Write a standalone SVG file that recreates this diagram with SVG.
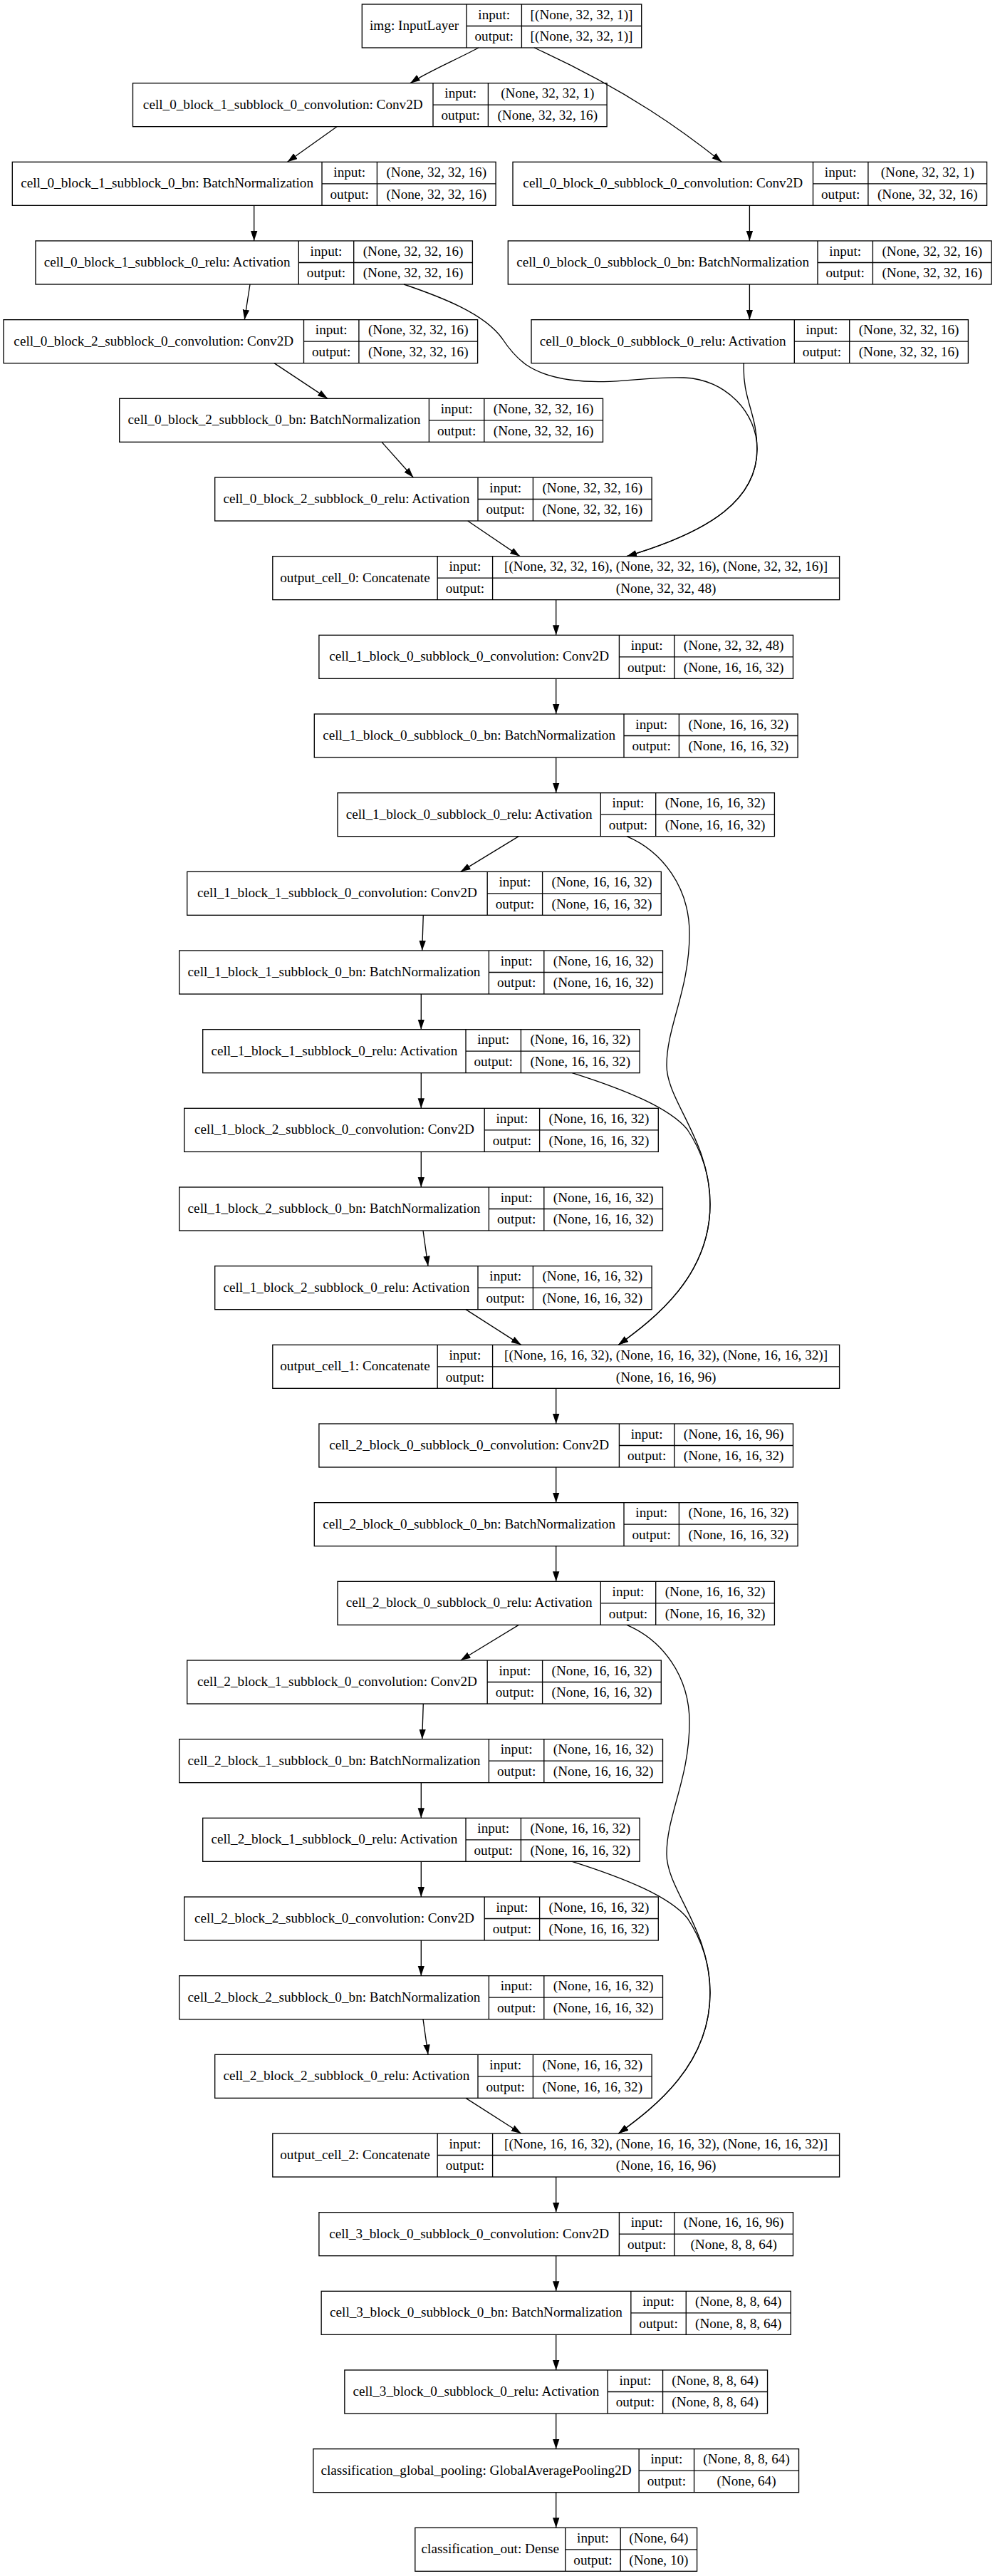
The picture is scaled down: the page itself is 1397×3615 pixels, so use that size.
<svg xmlns="http://www.w3.org/2000/svg" width="1397" height="3615" viewBox="0 0 1397 3615">
<style>
  .box{fill:#fff;stroke:#000;stroke-width:1.33}
  .grid{fill:none;stroke:#000;stroke-width:1.33}
  .edge{fill:none;stroke:#000;stroke-width:1.33;marker-end:url(#arrow)}
  text{font-family:"Liberation Serif","Times New Roman",serif;font-size:19.2px;text-anchor:middle;fill:#000}
</style>
<defs>
  <marker id="arrow" markerUnits="userSpaceOnUse" markerWidth="14" markerHeight="10" viewBox="0 0 14 10" refX="14" refY="5" orient="auto">
    <path d="M0,0.3L14,5L0,9.7z" fill="#000"/>
  </marker>
</defs>
<rect width="1397" height="3615" fill="#fff"/>

<!-- layer records: name | input:/output: | shapes -->
<g id="nodes">
<g id="img" transform="translate(508.3,6)">
  <rect class="box" width="392.4" height="61"/>
  <path class="grid" d="M146.7,0V61M224.1,0V61M146.7,30.5H392.4"/>
  <text x="73.35" y="36">img: InputLayer</text>
  <text x="185.4" y="20.7">input:</text><text x="185.4" y="51.2">output:</text>
  <text x="308.25" y="20.7">[(None, 32, 32, 1)]</text><text x="308.25" y="51.2">[(None, 32, 32, 1)]</text>
</g>

<g id="cell_0_block_1_subblock_0_convolution" transform="translate(186.5,116.67)">
  <rect class="box" width="665.6" height="61"/>
  <path class="grid" d="M421.5,0V61M498.9,0V61M421.5,30.5H665.6"/>
  <text x="210.75" y="36">cell_0_block_1_subblock_0_convolution: Conv2D</text>
  <text x="460.2" y="20.7">input:</text><text x="460.2" y="51.2">output:</text>
  <text x="582.25" y="20.7">(None, 32, 32, 1)</text><text x="582.25" y="51.2">(None, 32, 32, 16)</text>
</g>

<g id="cell_0_block_1_subblock_0_bn" transform="translate(17.3,227.33)">
  <rect class="box" width="678.8" height="61"/>
  <path class="grid" d="M434.7,0V61M512.1,0V61M434.7,30.5H678.8"/>
  <text x="217.35" y="36">cell_0_block_1_subblock_0_bn: BatchNormalization</text>
  <text x="473.4" y="20.7">input:</text><text x="473.4" y="51.2">output:</text>
  <text x="595.45" y="20.7">(None, 32, 32, 16)</text><text x="595.45" y="51.2">(None, 32, 32, 16)</text>
</g>

<g id="cell_0_block_0_subblock_0_convolution" transform="translate(720,227.33)">
  <rect class="box" width="665.6" height="61"/>
  <path class="grid" d="M421.5,0V61M498.9,0V61M421.5,30.5H665.6"/>
  <text x="210.75" y="36">cell_0_block_0_subblock_0_convolution: Conv2D</text>
  <text x="460.2" y="20.7">input:</text><text x="460.2" y="51.2">output:</text>
  <text x="582.25" y="20.7">(None, 32, 32, 1)</text><text x="582.25" y="51.2">(None, 32, 32, 16)</text>
</g>

<g id="cell_0_block_1_subblock_0_relu" transform="translate(50,338)">
  <rect class="box" width="613.4" height="61"/>
  <path class="grid" d="M369.3,0V61M446.7,0V61M369.3,30.5H613.4"/>
  <text x="184.65" y="36">cell_0_block_1_subblock_0_relu: Activation</text>
  <text x="408" y="20.7">input:</text><text x="408" y="51.2">output:</text>
  <text x="530.05" y="20.7">(None, 32, 32, 16)</text><text x="530.05" y="51.2">(None, 32, 32, 16)</text>
</g>

<g id="cell_0_block_0_subblock_0_bn" transform="translate(713.3,338)">
  <rect class="box" width="678.8" height="61"/>
  <path class="grid" d="M434.7,0V61M512.1,0V61M434.7,30.5H678.8"/>
  <text x="217.35" y="36">cell_0_block_0_subblock_0_bn: BatchNormalization</text>
  <text x="473.4" y="20.7">input:</text><text x="473.4" y="51.2">output:</text>
  <text x="595.45" y="20.7">(None, 32, 32, 16)</text><text x="595.45" y="51.2">(None, 32, 32, 16)</text>
</g>

<g id="cell_0_block_2_subblock_0_convolution" transform="translate(5,448.67)">
  <rect class="box" width="665.6" height="61"/>
  <path class="grid" d="M421.5,0V61M498.9,0V61M421.5,30.5H665.6"/>
  <text x="210.75" y="36">cell_0_block_2_subblock_0_convolution: Conv2D</text>
  <text x="460.2" y="20.7">input:</text><text x="460.2" y="51.2">output:</text>
  <text x="582.25" y="20.7">(None, 32, 32, 16)</text><text x="582.25" y="51.2">(None, 32, 32, 16)</text>
</g>

<g id="cell_0_block_0_subblock_0_relu" transform="translate(746,448.67)">
  <rect class="box" width="613.4" height="61"/>
  <path class="grid" d="M369.3,0V61M446.7,0V61M369.3,30.5H613.4"/>
  <text x="184.65" y="36">cell_0_block_0_subblock_0_relu: Activation</text>
  <text x="408" y="20.7">input:</text><text x="408" y="51.2">output:</text>
  <text x="530.05" y="20.7">(None, 32, 32, 16)</text><text x="530.05" y="51.2">(None, 32, 32, 16)</text>
</g>

<g id="cell_0_block_2_subblock_0_bn" transform="translate(167.7,559.33)">
  <rect class="box" width="678.8" height="61"/>
  <path class="grid" d="M434.7,0V61M512.1,0V61M434.7,30.5H678.8"/>
  <text x="217.35" y="36">cell_0_block_2_subblock_0_bn: BatchNormalization</text>
  <text x="473.4" y="20.7">input:</text><text x="473.4" y="51.2">output:</text>
  <text x="595.45" y="20.7">(None, 32, 32, 16)</text><text x="595.45" y="51.2">(None, 32, 32, 16)</text>
</g>

<g id="cell_0_block_2_subblock_0_relu" transform="translate(301.7,670)">
  <rect class="box" width="613.4" height="61"/>
  <path class="grid" d="M369.3,0V61M446.7,0V61M369.3,30.5H613.4"/>
  <text x="184.65" y="36">cell_0_block_2_subblock_0_relu: Activation</text>
  <text x="408" y="20.7">input:</text><text x="408" y="51.2">output:</text>
  <text x="530.05" y="20.7">(None, 32, 32, 16)</text><text x="530.05" y="51.2">(None, 32, 32, 16)</text>
</g>

<g id="output_cell_0" transform="translate(382.8,780.67)">
  <rect class="box" width="795.8" height="61"/>
  <path class="grid" d="M231.4,0V61M308.8,0V61M231.4,30.5H795.8"/>
  <text x="115.7" y="36">output_cell_0: Concatenate</text>
  <text x="270.1" y="20.7">input:</text><text x="270.1" y="51.2">output:</text>
  <text x="552.3" y="20.7">[(None, 32, 32, 16), (None, 32, 32, 16), (None, 32, 32, 16)]</text><text x="552.3" y="51.2">(None, 32, 32, 48)</text>
</g>

<g id="cell_1_block_0_subblock_0_convolution" transform="translate(447.9,891.33)">
  <rect class="box" width="665.6" height="61"/>
  <path class="grid" d="M421.5,0V61M498.9,0V61M421.5,30.5H665.6"/>
  <text x="210.75" y="36">cell_1_block_0_subblock_0_convolution: Conv2D</text>
  <text x="460.2" y="20.7">input:</text><text x="460.2" y="51.2">output:</text>
  <text x="582.25" y="20.7">(None, 32, 32, 48)</text><text x="582.25" y="51.2">(None, 16, 16, 32)</text>
</g>

<g id="cell_1_block_0_subblock_0_bn" transform="translate(441.3,1002)">
  <rect class="box" width="678.8" height="61"/>
  <path class="grid" d="M434.7,0V61M512.1,0V61M434.7,30.5H678.8"/>
  <text x="217.35" y="36">cell_1_block_0_subblock_0_bn: BatchNormalization</text>
  <text x="473.4" y="20.7">input:</text><text x="473.4" y="51.2">output:</text>
  <text x="595.45" y="20.7">(None, 16, 16, 32)</text><text x="595.45" y="51.2">(None, 16, 16, 32)</text>
</g>

<g id="cell_1_block_0_subblock_0_relu" transform="translate(474,1112.67)">
  <rect class="box" width="613.4" height="61"/>
  <path class="grid" d="M369.3,0V61M446.7,0V61M369.3,30.5H613.4"/>
  <text x="184.65" y="36">cell_1_block_0_subblock_0_relu: Activation</text>
  <text x="408" y="20.7">input:</text><text x="408" y="51.2">output:</text>
  <text x="530.05" y="20.7">(None, 16, 16, 32)</text><text x="530.05" y="51.2">(None, 16, 16, 32)</text>
</g>

<g id="cell_1_block_1_subblock_0_convolution" transform="translate(262.7,1223.33)">
  <rect class="box" width="665.6" height="61"/>
  <path class="grid" d="M421.5,0V61M498.9,0V61M421.5,30.5H665.6"/>
  <text x="210.75" y="36">cell_1_block_1_subblock_0_convolution: Conv2D</text>
  <text x="460.2" y="20.7">input:</text><text x="460.2" y="51.2">output:</text>
  <text x="582.25" y="20.7">(None, 16, 16, 32)</text><text x="582.25" y="51.2">(None, 16, 16, 32)</text>
</g>

<g id="cell_1_block_1_subblock_0_bn" transform="translate(251.7,1334)">
  <rect class="box" width="678.8" height="61"/>
  <path class="grid" d="M434.7,0V61M512.1,0V61M434.7,30.5H678.8"/>
  <text x="217.35" y="36">cell_1_block_1_subblock_0_bn: BatchNormalization</text>
  <text x="473.4" y="20.7">input:</text><text x="473.4" y="51.2">output:</text>
  <text x="595.45" y="20.7">(None, 16, 16, 32)</text><text x="595.45" y="51.2">(None, 16, 16, 32)</text>
</g>

<g id="cell_1_block_1_subblock_0_relu" transform="translate(284.7,1444.67)">
  <rect class="box" width="613.4" height="61"/>
  <path class="grid" d="M369.3,0V61M446.7,0V61M369.3,30.5H613.4"/>
  <text x="184.65" y="36">cell_1_block_1_subblock_0_relu: Activation</text>
  <text x="408" y="20.7">input:</text><text x="408" y="51.2">output:</text>
  <text x="530.05" y="20.7">(None, 16, 16, 32)</text><text x="530.05" y="51.2">(None, 16, 16, 32)</text>
</g>

<g id="cell_1_block_2_subblock_0_convolution" transform="translate(258.7,1555.33)">
  <rect class="box" width="665.6" height="61"/>
  <path class="grid" d="M421.5,0V61M498.9,0V61M421.5,30.5H665.6"/>
  <text x="210.75" y="36">cell_1_block_2_subblock_0_convolution: Conv2D</text>
  <text x="460.2" y="20.7">input:</text><text x="460.2" y="51.2">output:</text>
  <text x="582.25" y="20.7">(None, 16, 16, 32)</text><text x="582.25" y="51.2">(None, 16, 16, 32)</text>
</g>

<g id="cell_1_block_2_subblock_0_bn" transform="translate(251.7,1666)">
  <rect class="box" width="678.8" height="61"/>
  <path class="grid" d="M434.7,0V61M512.1,0V61M434.7,30.5H678.8"/>
  <text x="217.35" y="36">cell_1_block_2_subblock_0_bn: BatchNormalization</text>
  <text x="473.4" y="20.7">input:</text><text x="473.4" y="51.2">output:</text>
  <text x="595.45" y="20.7">(None, 16, 16, 32)</text><text x="595.45" y="51.2">(None, 16, 16, 32)</text>
</g>

<g id="cell_1_block_2_subblock_0_relu" transform="translate(301.7,1776.67)">
  <rect class="box" width="613.4" height="61"/>
  <path class="grid" d="M369.3,0V61M446.7,0V61M369.3,30.5H613.4"/>
  <text x="184.65" y="36">cell_1_block_2_subblock_0_relu: Activation</text>
  <text x="408" y="20.7">input:</text><text x="408" y="51.2">output:</text>
  <text x="530.05" y="20.7">(None, 16, 16, 32)</text><text x="530.05" y="51.2">(None, 16, 16, 32)</text>
</g>

<g id="output_cell_1" transform="translate(382.8,1887.33)">
  <rect class="box" width="795.8" height="61"/>
  <path class="grid" d="M231.4,0V61M308.8,0V61M231.4,30.5H795.8"/>
  <text x="115.7" y="36">output_cell_1: Concatenate</text>
  <text x="270.1" y="20.7">input:</text><text x="270.1" y="51.2">output:</text>
  <text x="552.3" y="20.7">[(None, 16, 16, 32), (None, 16, 16, 32), (None, 16, 16, 32)]</text><text x="552.3" y="51.2">(None, 16, 16, 96)</text>
</g>

<g id="cell_2_block_0_subblock_0_convolution" transform="translate(447.9,1998)">
  <rect class="box" width="665.6" height="61"/>
  <path class="grid" d="M421.5,0V61M498.9,0V61M421.5,30.5H665.6"/>
  <text x="210.75" y="36">cell_2_block_0_subblock_0_convolution: Conv2D</text>
  <text x="460.2" y="20.7">input:</text><text x="460.2" y="51.2">output:</text>
  <text x="582.25" y="20.7">(None, 16, 16, 96)</text><text x="582.25" y="51.2">(None, 16, 16, 32)</text>
</g>

<g id="cell_2_block_0_subblock_0_bn" transform="translate(441.3,2108.67)">
  <rect class="box" width="678.8" height="61"/>
  <path class="grid" d="M434.7,0V61M512.1,0V61M434.7,30.5H678.8"/>
  <text x="217.35" y="36">cell_2_block_0_subblock_0_bn: BatchNormalization</text>
  <text x="473.4" y="20.7">input:</text><text x="473.4" y="51.2">output:</text>
  <text x="595.45" y="20.7">(None, 16, 16, 32)</text><text x="595.45" y="51.2">(None, 16, 16, 32)</text>
</g>

<g id="cell_2_block_0_subblock_0_relu" transform="translate(474,2219.33)">
  <rect class="box" width="613.4" height="61"/>
  <path class="grid" d="M369.3,0V61M446.7,0V61M369.3,30.5H613.4"/>
  <text x="184.65" y="36">cell_2_block_0_subblock_0_relu: Activation</text>
  <text x="408" y="20.7">input:</text><text x="408" y="51.2">output:</text>
  <text x="530.05" y="20.7">(None, 16, 16, 32)</text><text x="530.05" y="51.2">(None, 16, 16, 32)</text>
</g>

<g id="cell_2_block_1_subblock_0_convolution" transform="translate(262.7,2330)">
  <rect class="box" width="665.6" height="61"/>
  <path class="grid" d="M421.5,0V61M498.9,0V61M421.5,30.5H665.6"/>
  <text x="210.75" y="36">cell_2_block_1_subblock_0_convolution: Conv2D</text>
  <text x="460.2" y="20.7">input:</text><text x="460.2" y="51.2">output:</text>
  <text x="582.25" y="20.7">(None, 16, 16, 32)</text><text x="582.25" y="51.2">(None, 16, 16, 32)</text>
</g>

<g id="cell_2_block_1_subblock_0_bn" transform="translate(251.7,2440.67)">
  <rect class="box" width="678.8" height="61"/>
  <path class="grid" d="M434.7,0V61M512.1,0V61M434.7,30.5H678.8"/>
  <text x="217.35" y="36">cell_2_block_1_subblock_0_bn: BatchNormalization</text>
  <text x="473.4" y="20.7">input:</text><text x="473.4" y="51.2">output:</text>
  <text x="595.45" y="20.7">(None, 16, 16, 32)</text><text x="595.45" y="51.2">(None, 16, 16, 32)</text>
</g>

<g id="cell_2_block_1_subblock_0_relu" transform="translate(284.7,2551.33)">
  <rect class="box" width="613.4" height="61"/>
  <path class="grid" d="M369.3,0V61M446.7,0V61M369.3,30.5H613.4"/>
  <text x="184.65" y="36">cell_2_block_1_subblock_0_relu: Activation</text>
  <text x="408" y="20.7">input:</text><text x="408" y="51.2">output:</text>
  <text x="530.05" y="20.7">(None, 16, 16, 32)</text><text x="530.05" y="51.2">(None, 16, 16, 32)</text>
</g>

<g id="cell_2_block_2_subblock_0_convolution" transform="translate(258.7,2662)">
  <rect class="box" width="665.6" height="61"/>
  <path class="grid" d="M421.5,0V61M498.9,0V61M421.5,30.5H665.6"/>
  <text x="210.75" y="36">cell_2_block_2_subblock_0_convolution: Conv2D</text>
  <text x="460.2" y="20.7">input:</text><text x="460.2" y="51.2">output:</text>
  <text x="582.25" y="20.7">(None, 16, 16, 32)</text><text x="582.25" y="51.2">(None, 16, 16, 32)</text>
</g>

<g id="cell_2_block_2_subblock_0_bn" transform="translate(251.7,2772.67)">
  <rect class="box" width="678.8" height="61"/>
  <path class="grid" d="M434.7,0V61M512.1,0V61M434.7,30.5H678.8"/>
  <text x="217.35" y="36">cell_2_block_2_subblock_0_bn: BatchNormalization</text>
  <text x="473.4" y="20.7">input:</text><text x="473.4" y="51.2">output:</text>
  <text x="595.45" y="20.7">(None, 16, 16, 32)</text><text x="595.45" y="51.2">(None, 16, 16, 32)</text>
</g>

<g id="cell_2_block_2_subblock_0_relu" transform="translate(301.7,2883.33)">
  <rect class="box" width="613.4" height="61"/>
  <path class="grid" d="M369.3,0V61M446.7,0V61M369.3,30.5H613.4"/>
  <text x="184.65" y="36">cell_2_block_2_subblock_0_relu: Activation</text>
  <text x="408" y="20.7">input:</text><text x="408" y="51.2">output:</text>
  <text x="530.05" y="20.7">(None, 16, 16, 32)</text><text x="530.05" y="51.2">(None, 16, 16, 32)</text>
</g>

<g id="output_cell_2" transform="translate(382.8,2994)">
  <rect class="box" width="795.8" height="61"/>
  <path class="grid" d="M231.4,0V61M308.8,0V61M231.4,30.5H795.8"/>
  <text x="115.7" y="36">output_cell_2: Concatenate</text>
  <text x="270.1" y="20.7">input:</text><text x="270.1" y="51.2">output:</text>
  <text x="552.3" y="20.7">[(None, 16, 16, 32), (None, 16, 16, 32), (None, 16, 16, 32)]</text><text x="552.3" y="51.2">(None, 16, 16, 96)</text>
</g>

<g id="cell_3_block_0_subblock_0_convolution" transform="translate(447.9,3104.67)">
  <rect class="box" width="665.6" height="61"/>
  <path class="grid" d="M421.5,0V61M498.9,0V61M421.5,30.5H665.6"/>
  <text x="210.75" y="36">cell_3_block_0_subblock_0_convolution: Conv2D</text>
  <text x="460.2" y="20.7">input:</text><text x="460.2" y="51.2">output:</text>
  <text x="582.25" y="20.7">(None, 16, 16, 96)</text><text x="582.25" y="51.2">(None, 8, 8, 64)</text>
</g>

<g id="cell_3_block_0_subblock_0_bn" transform="translate(451.15,3215.33)">
  <rect class="box" width="659.1" height="61"/>
  <path class="grid" d="M434.7,0V61M512.1,0V61M434.7,30.5H659.1"/>
  <text x="217.35" y="36">cell_3_block_0_subblock_0_bn: BatchNormalization</text>
  <text x="473.4" y="20.7">input:</text><text x="473.4" y="51.2">output:</text>
  <text x="585.6" y="20.7">(None, 8, 8, 64)</text><text x="585.6" y="51.2">(None, 8, 8, 64)</text>
</g>

<g id="cell_3_block_0_subblock_0_relu" transform="translate(483.85,3326)">
  <rect class="box" width="593.7" height="61"/>
  <path class="grid" d="M369.3,0V61M446.7,0V61M369.3,30.5H593.7"/>
  <text x="184.65" y="36">cell_3_block_0_subblock_0_relu: Activation</text>
  <text x="408" y="20.7">input:</text><text x="408" y="51.2">output:</text>
  <text x="520.2" y="20.7">(None, 8, 8, 64)</text><text x="520.2" y="51.2">(None, 8, 8, 64)</text>
</g>

<g id="classification_global_pooling" transform="translate(439.85,3436.67)">
  <rect class="box" width="681.7" height="61"/>
  <path class="grid" d="M457.3,0V61M534.7,0V61M457.3,30.5H681.7"/>
  <text x="228.65" y="36">classification_global_pooling: GlobalAveragePooling2D</text>
  <text x="496" y="20.7">input:</text><text x="496" y="51.2">output:</text>
  <text x="608.2" y="20.7">(None, 8, 8, 64)</text><text x="608.2" y="51.2">(None, 64)</text>
</g>

<g id="classification_out" transform="translate(582.8,3547.33)">
  <rect class="box" width="395.8" height="61"/>
  <path class="grid" d="M211,0V61M288.4,0V61M211,30.5H395.8"/>
  <text x="105.5" y="36">classification_out: Dense</text>
  <text x="249.7" y="20.7">input:</text><text x="249.7" y="51.2">output:</text>
  <text x="342.1" y="20.7">(None, 64)</text><text x="342.1" y="51.2">(None, 10)</text>
</g>
</g>

<!-- connectors -->
<g id="edges">
  <!-- cell 0 -->
  <path class="edge" d="M672,67C640,84 600,101 576,116.67"/>
  <path class="edge" d="M750,67C882,127 963,187 1013.3,227.33"/>
  <path class="edge" d="M473,177.67L403.5,227.33"/>
  <path class="edge" d="M356.7,288.33V338"/>
  <path class="edge" d="M351,399L343.3,448.67"/>
  <path class="edge" d="M385,509.67L460,559.33"/>
  <path class="edge" d="M536,620.33L580.3,670"/>
  <path class="edge" d="M656.7,731L730,780.67"/>
  <path class="edge" d="M1052.4,288.33V338"/>
  <path class="edge" d="M1052.4,399V448.67"/>
  <path class="edge" d="M567,399C620,417 680,440 705,475C725,505 745,525 800,533C860,541 900,528 960,530C1020,532 1063,580 1063,630C1063,700 1000,745 880,780.67"/>
  <path class="edge" d="M1044.3,509.67C1042,560 1063,580 1063,630C1063,700 1000,745 880,780.67"/>

  <!-- cell 1 -->
  <path class="edge" d="M780.7,841.67V891.33"/>
  <path class="edge" d="M780.7,952.33V1002"/>
  <path class="edge" d="M780.7,1063V1112.67"/>
  <path class="edge" d="M728.3,1173.67L646.7,1223.33"/>
  <path class="edge" d="M594.3,1284.33L592.7,1334"/>
  <path class="edge" d="M591.3,1395V1444.67"/>
  <path class="edge" d="M591.3,1505.67V1555.33"/>
  <path class="edge" d="M591.3,1616.33V1666"/>
  <path class="edge" d="M594,1727L601,1776.67"/>
  <path class="edge" d="M654,1837.67L731.7,1887.33"/>
  <path class="edge" d="M880,1173.67C930,1195 968,1245 968,1310C968,1390 936,1440 936,1495C936,1545 997,1600 997,1690C997,1790 920,1850 868.3,1887.33"/>
  <path class="edge" d="M803.3,1505.67C880,1530 940,1555 965,1585C985,1615 997,1650 997,1690C997,1790 920,1850 868.3,1887.33"/>

  <!-- cell 2 -->
  <path class="edge" d="M780.7,1948.33V1998"/>
  <path class="edge" d="M780.7,2059V2108.67"/>
  <path class="edge" d="M780.7,2169.67V2219.33"/>
  <path class="edge" d="M728.3,2280.33L646.7,2330"/>
  <path class="edge" d="M594.3,2391L592.7,2440.67"/>
  <path class="edge" d="M591.3,2501.67V2551.33"/>
  <path class="edge" d="M591.3,2612.33V2662"/>
  <path class="edge" d="M591.3,2723V2772.67"/>
  <path class="edge" d="M594,2833.67L601,2883.33"/>
  <path class="edge" d="M654,2944.33L731.7,2994"/>
  <path class="edge" d="M880,2280.33C930,2301.7 968,2351.7 968,2416.7C968,2496.7 936,2546.7 936,2601.7C936,2651.7 997,2706.7 997,2796.7C997,2896.7 920,2956.7 868.3,2994"/>
  <path class="edge" d="M803.3,2612.33C880,2636.7 940,2661.7 965,2691.7C985,2721.7 997,2756.7 997,2796.7C997,2896.7 920,2956.7 868.3,2994"/>

  <!-- cell 3 and head -->
  <path class="edge" d="M780.7,3055V3104.67"/>
  <path class="edge" d="M780.7,3165.67V3215.33"/>
  <path class="edge" d="M780.7,3276.33V3326"/>
  <path class="edge" d="M780.7,3387V3436.67"/>
  <path class="edge" d="M780.7,3497.67V3547.33"/>
</g>
</svg>
